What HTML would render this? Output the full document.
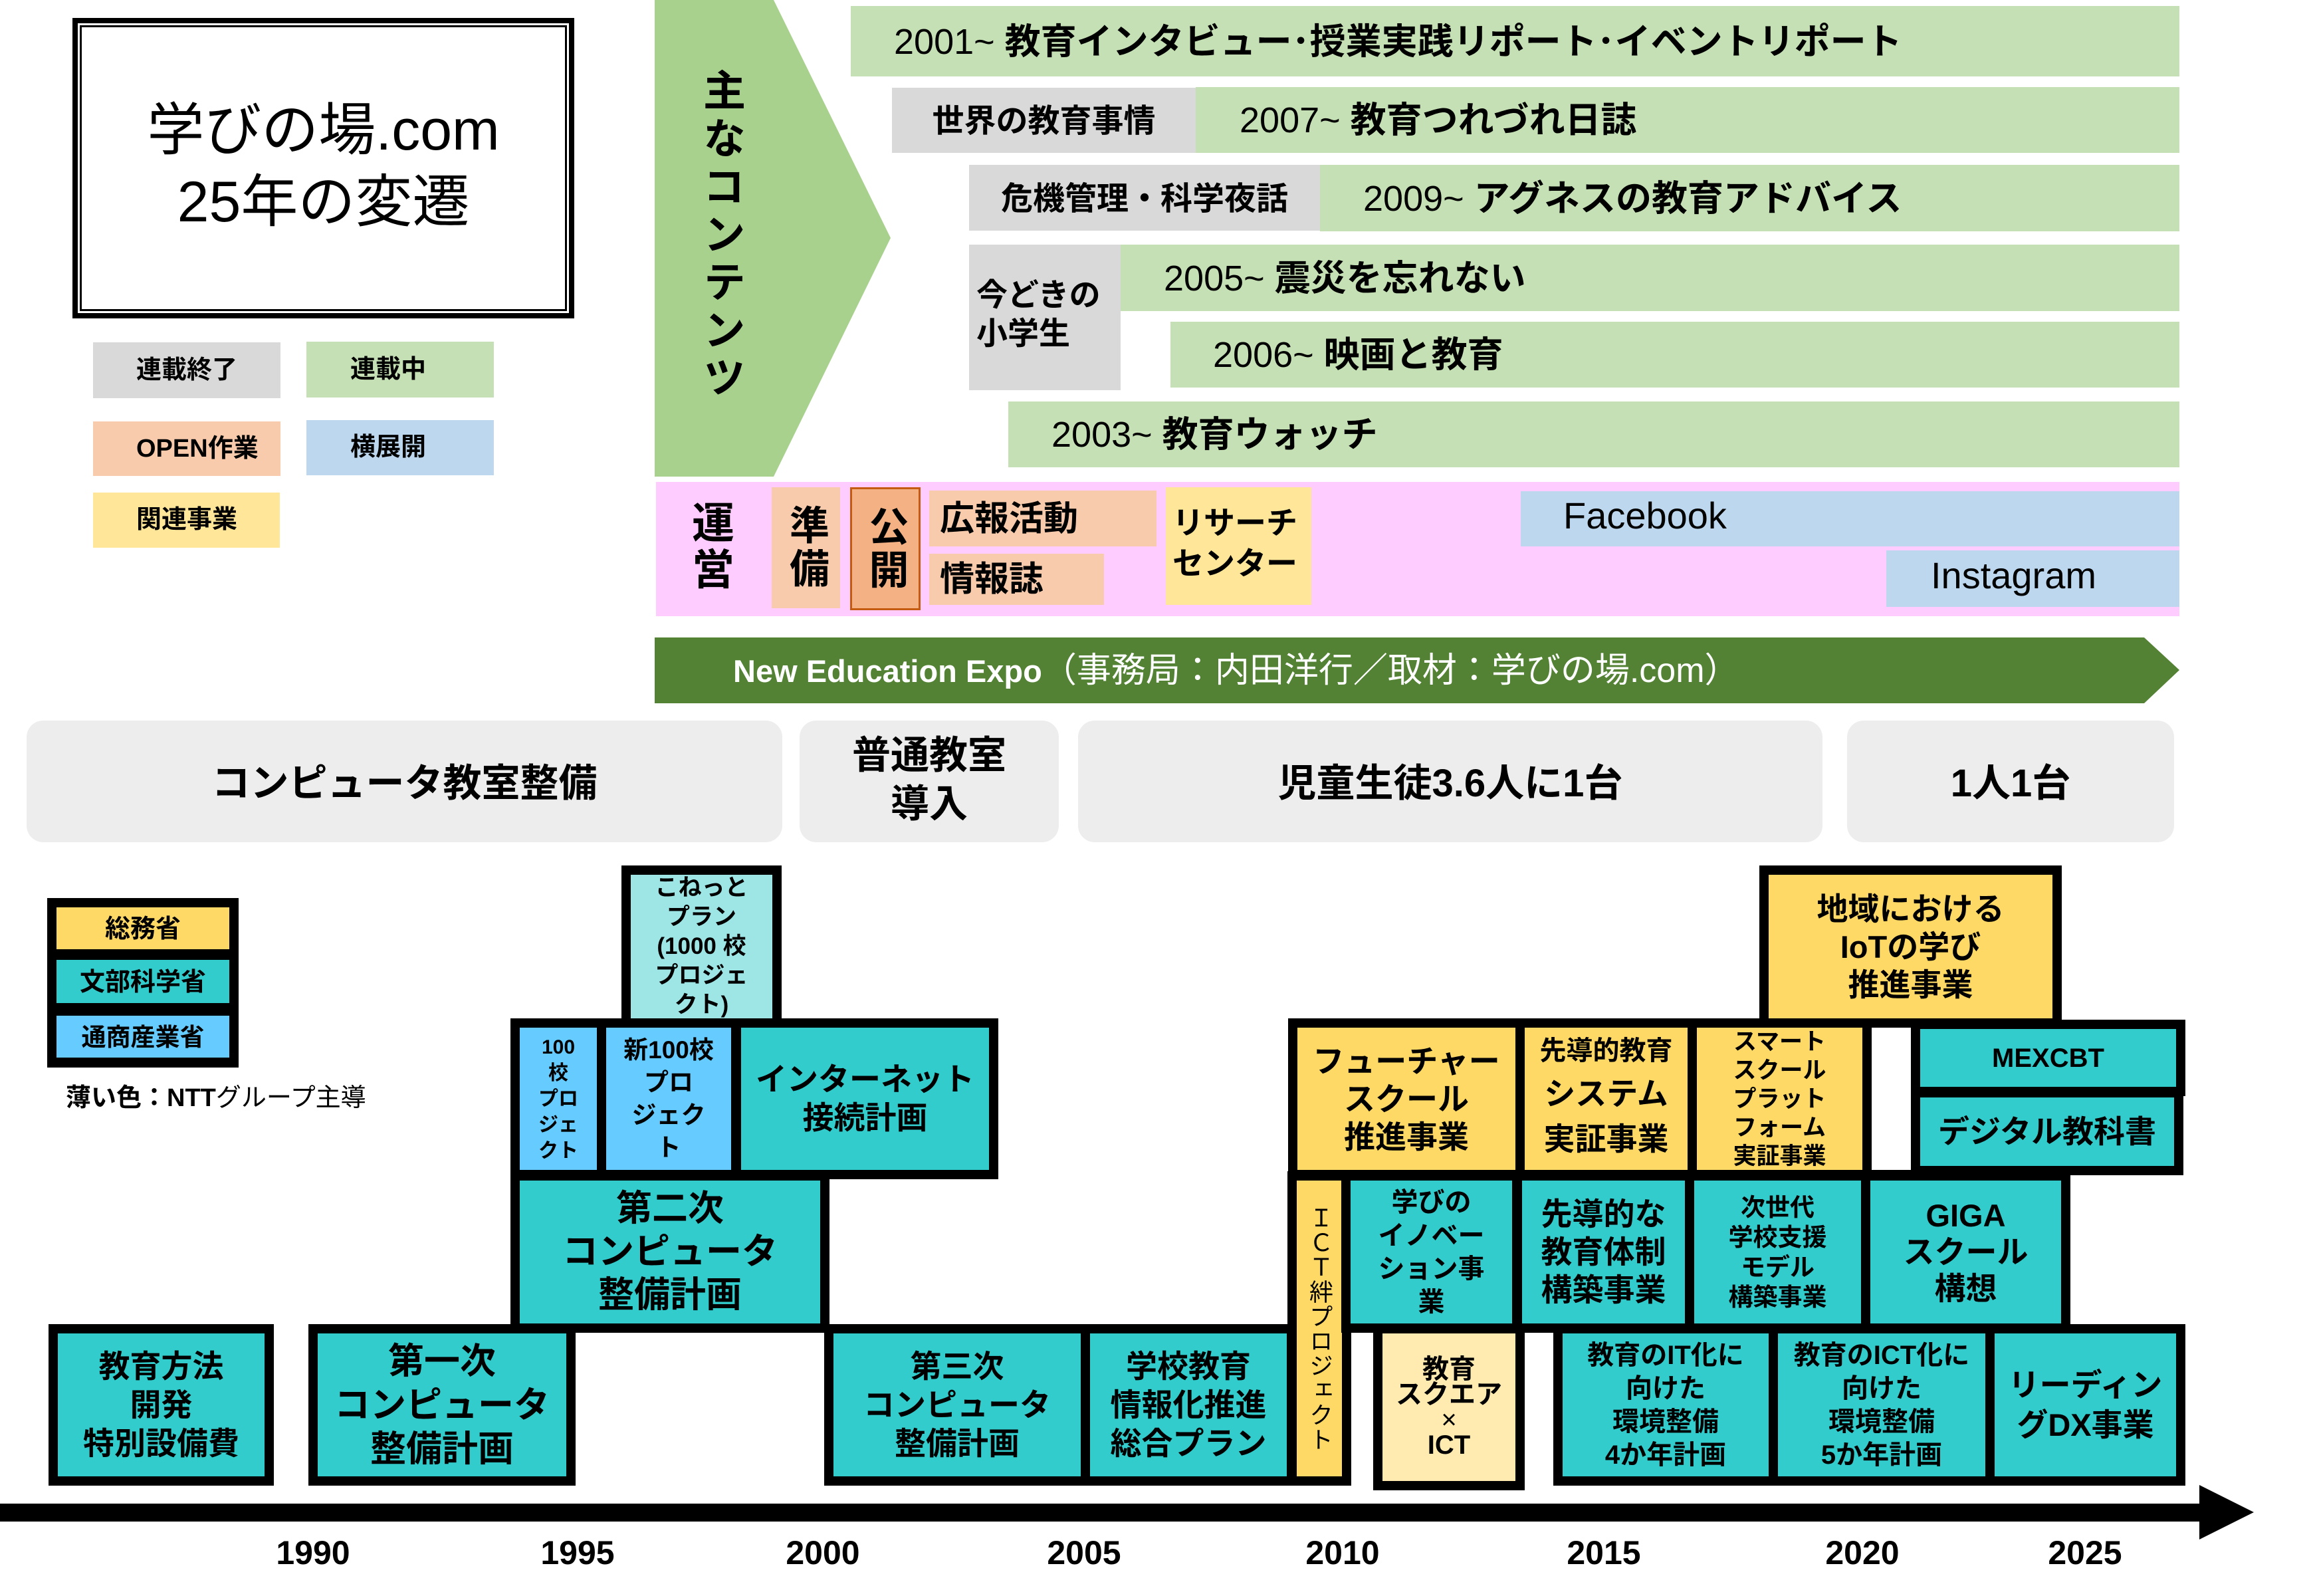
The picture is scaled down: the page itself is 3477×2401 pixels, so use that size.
<!DOCTYPE html>
<html><head><meta charset="utf-8">
<style>
*{margin:0;padding:0}
html,body{width:3477px;height:2401px}
body{position:relative;overflow:hidden;background:#fff;font-family:"Liberation Sans","Noto Sans CJK JP",sans-serif;color:#000}
.a{position:absolute;box-sizing:border-box;white-space:nowrap}
.c{display:flex;flex-direction:column;align-items:center;justify-content:center;text-align:center}
.l{display:flex;align-items:center;padding-bottom:10px}
.b{font-weight:700}
.r{font-weight:400}
.k{position:absolute;box-sizing:border-box;border:14px solid #000;display:flex;flex-direction:column;align-items:center;justify-content:center;text-align:center;font-weight:700;white-space:nowrap}
.v{writing-mode:vertical-rl}
.t{background:#33CCCC}.y{background:#FFD966}.lb{background:#66CCFF}
.g{background:#C5E0B4}.gr{background:#D9D9D9}
.era{position:absolute;box-sizing:border-box;background:#EDEDED;border-radius:25px;display:flex;align-items:center;justify-content:center;text-align:center;font-weight:700;font-size:58px;padding-bottom:6px}
.yr{position:absolute;width:200px;text-align:center;font-weight:700;font-size:50px;line-height:50px;top:2311px}
</style></head><body>

<svg class="a" style="left:0;top:0" width="3477" height="2401">
<polygon points="985,0 1164,0 1340,358 1164,717 985,717" fill="#A9D18E"/>
<polygon points="985,959 3226,959 3279,1008 3226,1058 985,1058" fill="#548235"/>
<rect x="0" y="2262" width="3320" height="27" fill="#000"/>
<polygon points="3309,2234 3391,2275 3309,2316" fill="#000"/>
</svg>

<!-- title -->
<div class="a" style="left:109px;top:27px;width:755px;height:452px;border:8px solid #000"></div>
<div class="a" style="left:120px;top:38px;width:733px;height:430px;border:3px solid #000"></div>
<div class="a c r" style="left:109px;top:27px;width:755px;height:452px;font-size:86px;line-height:108px;padding-bottom:6px"><div>学びの場.com<br>25年の変遷</div></div>

<!-- legend top -->
<div class="a l b gr" style="left:140px;top:515px;width:282px;height:84px;padding-left:65px;font-size:38px">連載終了</div>
<div class="a l b g" style="left:461px;top:514px;width:282px;height:84px;padding-left:66px;font-size:38px">連載中</div>
<div class="a l b" style="left:140px;top:634px;width:282px;height:82px;padding-left:65px;font-size:38px;background:#F8CBAD">OPEN作業</div>
<div class="a l b" style="left:461px;top:632px;width:282px;height:83px;padding-left:66px;font-size:38px;background:#BDD7EE">横展開</div>
<div class="a l b" style="left:140px;top:741px;width:281px;height:83px;padding-left:65px;font-size:38px;background:#FFE699">関連事業</div>

<!-- main contents -->
<div class="a b v" style="left:1053px;top:103px;font-size:64px;letter-spacing:8px;line-height:64px">主なコンテンツ</div>

<div class="a l b g" style="left:1280px;top:9px;width:1999px;height:106px;padding-left:65px;font-size:54px"><div><span class="r">2001~ </span>教育インタビュー･授業実践リポート･イベントリポート</div></div>
<div class="a c b gr" style="left:1342px;top:132px;width:457px;height:98px;font-size:48px;padding-bottom:8px"><div>世界の教育事情</div></div>
<div class="a l b g" style="left:1799px;top:131px;width:1480px;height:99px;padding-left:66px;font-size:54px"><div><span class="r">2007~ </span>教育つれづれ日誌</div></div>
<div class="a c b gr" style="left:1458px;top:248px;width:528px;height:99px;font-size:48px;padding-bottom:8px"><div>危機管理・科学夜話</div></div>
<div class="a l b g" style="left:1986px;top:248px;width:1293px;height:100px;padding-left:65px;font-size:54px"><div><span class="r">2009~ </span>アグネスの教育アドバイス</div></div>
<div class="a l b gr" style="left:1458px;top:368px;width:228px;height:219px;padding-left:11px;font-size:47px;line-height:58px"><div>今どきの<br>小学生</div></div>
<div class="a l b g" style="left:1686px;top:368px;width:1593px;height:100px;padding-left:65px;font-size:54px"><div><span class="r">2005~ </span>震災を忘れない</div></div>
<div class="a l b g" style="left:1761px;top:484px;width:1518px;height:99px;padding-left:64px;font-size:54px"><div><span class="r">2006~ </span>映画と教育</div></div>
<div class="a l b g" style="left:1517px;top:604px;width:1762px;height:99px;padding-left:65px;font-size:54px"><div><span class="r">2003~ </span>教育ウォッチ</div></div>

<!-- operations band -->
<div class="a" style="left:987px;top:725px;width:2292px;height:202px;background:#FFCCFF"></div>
<div class="a b v" style="left:1036px;top:753px;font-size:64px;letter-spacing:6px;line-height:64px">運営</div>
<div class="a c b" style="left:1161px;top:733px;width:103px;height:182px;background:#F8CBAD"><div class="v" style="font-size:60px;letter-spacing:5px;line-height:60px">準備</div></div>
<div class="a c b" style="left:1279px;top:733px;width:106px;height:185px;background:#F4B183;border:3px solid #C55A11"><div class="v" style="font-size:60px;letter-spacing:5px;line-height:60px">公開</div></div>
<div class="a l b" style="left:1398px;top:738px;width:342px;height:84px;padding-left:16px;font-size:52px;background:#F8CBAD">広報活動</div>
<div class="a l b" style="left:1398px;top:833px;width:263px;height:77px;padding-left:16px;font-size:52px;background:#F8CBAD">情報誌</div>
<div class="a l b" style="left:1754px;top:733px;width:219px;height:177px;padding-left:10px;font-size:47px;line-height:61px;background:#FFE699"><div>リサーチ<br>センター</div></div>
<div class="a l r" style="left:2288px;top:739px;width:991px;height:83px;padding-left:64px;font-size:56px;background:#BDD7EE">Facebook</div>
<div class="a l r" style="left:2838px;top:828px;width:441px;height:85px;padding-left:67px;font-size:56px;background:#BDD7EE">Instagram</div>

<!-- NEE -->
<div class="a l" style="left:1103px;top:959px;height:99px;color:#fff"><div><span class="b" style="font-size:47px">New Education Expo</span><span class="r" style="font-size:52px">（事務局：内田洋行／取材：学びの場.com）</span></div></div>

<!-- eras -->
<div class="era" style="left:40px;top:1084px;width:1137px;height:183px">コンピュータ教室整備</div>
<div class="era" style="left:1203px;top:1084px;width:390px;height:183px;line-height:73px"><div>普通教室<br>導入</div></div>
<div class="era" style="left:1622px;top:1084px;width:1120px;height:183px">児童生徒3.6人に1台</div>
<div class="era" style="left:2779px;top:1084px;width:492px;height:183px">1人1台</div>

<!-- ministry legend -->
<div class="a" style="left:71px;top:1351px;width:288px;height:255px;background:#000"></div>
<div class="a c b y" style="left:85px;top:1365px;width:260px;height:63px;font-size:38px;padding-bottom:6px">総務省</div>
<div class="a c b t" style="left:85px;top:1444px;width:260px;height:65px;font-size:38px;padding-bottom:6px">文部科学省</div>
<div class="a c b lb" style="left:85px;top:1528px;width:260px;height:63px;font-size:37px;padding-bottom:6px">通商産業省</div>
<div class="a" style="left:99px;top:1630px;font-size:38px;line-height:44px"><span class="b">薄い色：NTT</span><span class="r">グループ主導</span></div>

<!-- timeline boxes -->
<div class="k t" style="left:73px;top:1992px;width:339px;height:243px"><div style="font-size:47px;line-height:58px">教育方法<br>開発<br>特別設備費</div></div>
<div class="k t" style="left:464px;top:1992px;width:402px;height:243px"><div style="font-size:54px;line-height:66px">第一次<br>コンピュータ<br>整備計画</div></div>
<div class="k t" style="left:768px;top:1762px;width:480px;height:243px"><div style="font-size:54px;line-height:65px">第二次<br>コンピュータ<br>整備計画</div></div>
<div class="k lb" style="left:768px;top:1532px;width:144px;height:242px"><div style="font-size:30px;line-height:39px">100<br>校<br>プロ<br>ジェ<br>クト</div></div>
<div class="k lb" style="left:898px;top:1532px;width:216px;height:242px"><div style="font-size:37px;line-height:49px">新100校<br>プロ<br>ジェク<br>ト</div></div>
<div class="k t" style="left:1101px;top:1532px;width:401px;height:242px"><div style="font-size:47px;line-height:58px">インターネット<br>接続計画</div></div>
<div class="k" style="left:935px;top:1302px;width:241px;height:244px;background:#9EE6E6"><div style="font-size:35px;line-height:44px">こねっと<br>プラン<br>(1000 校<br>プロジェ<br>クト)</div></div>
<div class="k t" style="left:1240px;top:1992px;width:400px;height:243px"><div style="font-size:47px;line-height:58px">第三次<br>コンピュータ<br>整備計画</div></div>
<div class="k t" style="left:1626px;top:1992px;width:324px;height:243px"><div style="font-size:47px;line-height:58px">学校教育<br>情報化推進<br>総合プラン</div></div>
<div class="k y" style="left:1937px;top:1762px;width:96px;height:473px"><div class="v r" style="font-size:36px;letter-spacing:1px;line-height:36px">ＩＣＴ絆プロジェクト</div></div>
<div class="k y" style="left:1938px;top:1532px;width:356px;height:242px"><div style="font-size:47px;line-height:57px">フューチャー<br>スクール<br>推進事業</div></div>
<div class="k t" style="left:2018px;top:1762px;width:271px;height:243px"><div style="font-size:40px;line-height:50px">学びの<br>イノベー<br>ション事<br>業</div></div>
<div class="k" style="left:2066px;top:1992px;width:228px;height:250px;background:#FFEAB0"><div style="font-size:40px;line-height:38px">教育<br>スクエア<br><span class="r">×</span><br>ICT</div></div>
<div class="k y" style="left:2280px;top:1532px;width:273px;height:242px"><div style="line-height:56px"><span style="font-size:40px">先導的教育</span><br><span style="font-size:47px">システム</span><br><span style="font-size:47px">実証事業</span></div></div>
<div class="k y" style="left:2539px;top:1532px;width:277px;height:242px"><div style="font-size:35px;line-height:43px">スマート<br>スクール<br>プラット<br>フォーム<br>実証事業</div></div>
<div class="k" style="left:2802px;top:1532px;width:87px;height:242px;background:#fff"></div>
<div class="k t" style="left:2875px;top:1534px;width:413px;height:115px"><div style="font-size:40px;line-height:44px">MEXCBT</div></div>
<div class="k t" style="left:2875px;top:1637px;width:410px;height:131px"><div style="font-size:47px;line-height:56px">デジタル教科書</div></div>
<div class="k t" style="left:2276px;top:1762px;width:273px;height:243px"><div style="font-size:47px;line-height:57px">先導的な<br>教育体制<br>構築事業</div></div>
<div class="k t" style="left:2535px;top:1762px;width:279px;height:243px"><div style="font-size:37px;line-height:45px">次世代<br>学校支援<br>モデル<br>構築事業</div></div>
<div class="k t" style="left:2800px;top:1762px;width:315px;height:243px"><div style="font-size:47px;line-height:55px">GIGA<br>スクール<br>構想</div></div>
<div class="k y" style="left:2647px;top:1302px;width:455px;height:244px"><div style="font-size:47px;line-height:57px">地域における<br>IoTの学び<br>推進事業</div></div>
<div class="k t" style="left:2337px;top:1992px;width:338px;height:243px"><div style="font-size:40px;line-height:50px">教育のIT化に<br>向けた<br>環境整備<br>4か年計画</div></div>
<div class="k t" style="left:2661px;top:1992px;width:340px;height:243px"><div style="font-size:40px;line-height:50px">教育のICT化に<br>向けた<br>環境整備<br>5か年計画</div></div>
<div class="k t" style="left:2987px;top:1992px;width:301px;height:243px"><div style="font-size:47px;line-height:60px">リーディン<br>グDX事業</div></div>

<!-- years -->
<div class="yr" style="left:371px">1990</div>
<div class="yr" style="left:769px">1995</div>
<div class="yr" style="left:1138px">2000</div>
<div class="yr" style="left:1531px">2005</div>
<div class="yr" style="left:1920px">2010</div>
<div class="yr" style="left:2313px">2015</div>
<div class="yr" style="left:2702px">2020</div>
<div class="yr" style="left:3037px">2025</div>

</body></html>
